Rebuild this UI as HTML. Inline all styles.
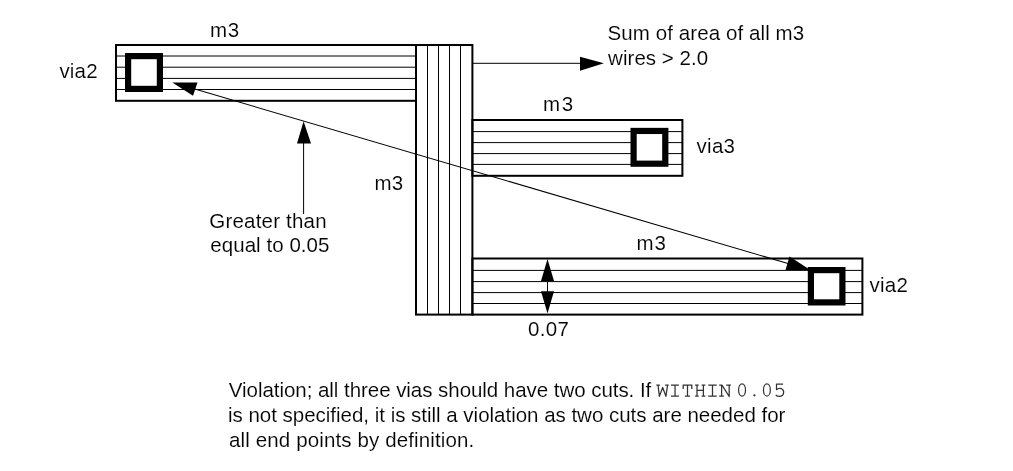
<!DOCTYPE html>
<html><head><meta charset="utf-8">
<style>
html,body{margin:0;padding:0;background:#fff;width:1013px;height:471px;overflow:hidden}
svg{display:block;will-change:transform}
text{font-family:"Liberation Sans",sans-serif;font-size:20.5px;fill:#000;stroke:#fff;stroke-width:0.12px}
text.mono{font-family:"Liberation Mono",monospace;font-size:20.8px;fill:#222}
</style></head><body>
<svg width="1013" height="471" viewBox="0 0 1013 471">
<g fill="none" stroke="#000">
<line x1="116" y1="56" x2="416" y2="56" stroke-width="1.0"/>
<line x1="116" y1="67.2" x2="416" y2="67.2" stroke-width="1.0"/>
<line x1="116" y1="78.4" x2="416" y2="78.4" stroke-width="1.0"/>
<line x1="116" y1="89.5" x2="416" y2="89.5" stroke-width="1.0"/>
<rect x="116" y="45" width="300" height="55.8" stroke-width="2"/>
<line x1="427.5" y1="45" x2="427.5" y2="314.6" stroke-width="1.0"/>
<line x1="438.5" y1="45" x2="438.5" y2="314.6" stroke-width="1.0"/>
<line x1="449.5" y1="45" x2="449.5" y2="314.6" stroke-width="1.0"/>
<line x1="460.5" y1="45" x2="460.5" y2="314.6" stroke-width="1.0"/>
<rect x="416" y="45" width="56.4" height="269.6" stroke-width="2"/>
<line x1="472.4" y1="131.6" x2="682.4" y2="131.6" stroke-width="1.0"/>
<line x1="472.4" y1="142.6" x2="682.4" y2="142.6" stroke-width="1.0"/>
<line x1="472.4" y1="153.6" x2="682.4" y2="153.6" stroke-width="1.0"/>
<line x1="472.4" y1="164.4" x2="682.4" y2="164.4" stroke-width="1.0"/>
<rect x="472.4" y="120" width="210.0" height="55.8" stroke-width="2"/>
<line x1="472.4" y1="270.4" x2="862.4" y2="270.4" stroke-width="1.0"/>
<line x1="472.4" y1="281.6" x2="862.4" y2="281.6" stroke-width="1.0"/>
<line x1="472.4" y1="292.6" x2="862.4" y2="292.6" stroke-width="1.0"/>
<line x1="472.4" y1="303.5" x2="862.4" y2="303.5" stroke-width="1.0"/>
<rect x="472.4" y="258.5" width="390.0" height="56.1" stroke-width="2"/>
</g>
<g fill="#fff" stroke="#000">
<rect x="128.1" y="56.1" width="31.8" height="32.8" stroke-width="6.2"/>
<rect x="633.6" y="130.95" width="31.7" height="32.75" stroke-width="6.2"/>
<rect x="810.9" y="270.1" width="31.5" height="32.3" stroke-width="6.2"/>
</g>
<g fill="none" stroke="#000">
<line x1="194" y1="88.8" x2="788" y2="263.5" stroke-width="1.05"/>
<line x1="303.6" y1="142" x2="303.6" y2="214" stroke-width="1.0"/>
<line x1="473" y1="63.3" x2="581" y2="63.3" stroke-width="1.0"/>
<line x1="547.5" y1="280" x2="547.5" y2="292" stroke-width="1.0"/>
</g>
<g fill="#000" stroke="none">
<polygon points="172.3,82.5 197.5,82.6 193,95.7"/>
<polygon points="810.4,269.9 789.5,256.5 785.5,270"/>
<polygon points="303.6,121.3 297,143.6 311,143.6"/>
<polygon points="580,56.8 580,70.8 603.9,63.3"/>
<polygon points="547.5,259 541,281 554,281"/>
<polygon points="541,291.3 554,291.3 547.5,313.4"/>
</g>
<text x="209.9" y="36.9" textLength="29.28" lengthAdjust="spacing">m3</text>
<text x="59.4" y="77.9" textLength="38.21" lengthAdjust="spacing">via2</text>
<text x="607.5" y="40.4" textLength="196.64" lengthAdjust="spacing">Sum of area of all m3</text>
<text x="608.1" y="65" textLength="100.1" lengthAdjust="spacing">wires &gt; 2.0</text>
<text x="543.0" y="111.1" textLength="30.18" lengthAdjust="spacing">m3</text>
<text x="696.6" y="152.7" textLength="38.41" lengthAdjust="spacing">via3</text>
<text x="374.6" y="190.1" textLength="28.48" lengthAdjust="spacing">m3</text>
<text x="209.3" y="228" textLength="117.29" lengthAdjust="spacing">Greater than</text>
<text x="210.3" y="252" textLength="119.15" lengthAdjust="spacing">equal to 0.05</text>
<text x="636.4" y="249.9" textLength="29.48" lengthAdjust="spacing">m3</text>
<text x="869.4" y="291.8" textLength="38.51" lengthAdjust="spacing">via2</text>
<text x="527.9" y="336.4" textLength="40.91" lengthAdjust="spacing">0.07</text>
<text x="228.8" y="396.7" textLength="422.47" lengthAdjust="spacing">Violation; all three vias should have two cuts. If</text>
<text x="228.0" y="421.6" textLength="557.34" lengthAdjust="spacing">is not specified, it is still a violation as two cuts are needed for</text>
<text x="229.0" y="447" textLength="245.21" lengthAdjust="spacing">all end points by definition.</text>
<g fill="none" stroke="#333" stroke-width="1.25" stroke-linecap="butt" stroke-linejoin="round">
<path d="M656.3,385.1H659.9M665.1,385.1H668.7M658,385.1L659.4,396.3L662.7,387.5L665.9,396.3L667.6,385.1"/>
<path d="M671,385.1H678.9M675.05,385.1V396.1M671,396.1H678.9"/>
<path d="M682.6,385.1H692.3M683.2,385.1V388.9M691.8,385.1V388.9M687.5,385.1V396.1M684.9,396.1H690.1"/>
<path d="M695.1,385.1H698.7M701.6,385.1H705.4M697,385.1V396.1M703.4,385.1V396.1M697,390.4H703.4M695.1,396.1H698.7M701.6,396.1H705.4"/>
<path d="M708.2,385.1H716.7M712.5,385.1V396.1M708.2,396.1H716.7"/>
<path d="M719.2,385.1H722.2M721.6,385.1V396.1M719.2,396.1H723.9M722,385.1L729.2,396.5V385.1M726.2,385.1H730.9"/>
<ellipse cx="742.05" cy="390" rx="3.45" ry="6.15"/>
<ellipse cx="766.9" cy="389.9" rx="3.45" ry="6.15"/>
<path d="M783.1,384H776.5V389.7C778,388.4 780,388.1 781.5,388.7C783.2,389.5 783.9,391.1 783.6,392.9C783.3,395 781.5,396.4 779.4,396.4C777.8,396.4 776.6,395.9 775.7,395"/>
</g>
<circle cx="754.4" cy="395.3" r="1.15" fill="#333"/>
</svg>
</body></html>
